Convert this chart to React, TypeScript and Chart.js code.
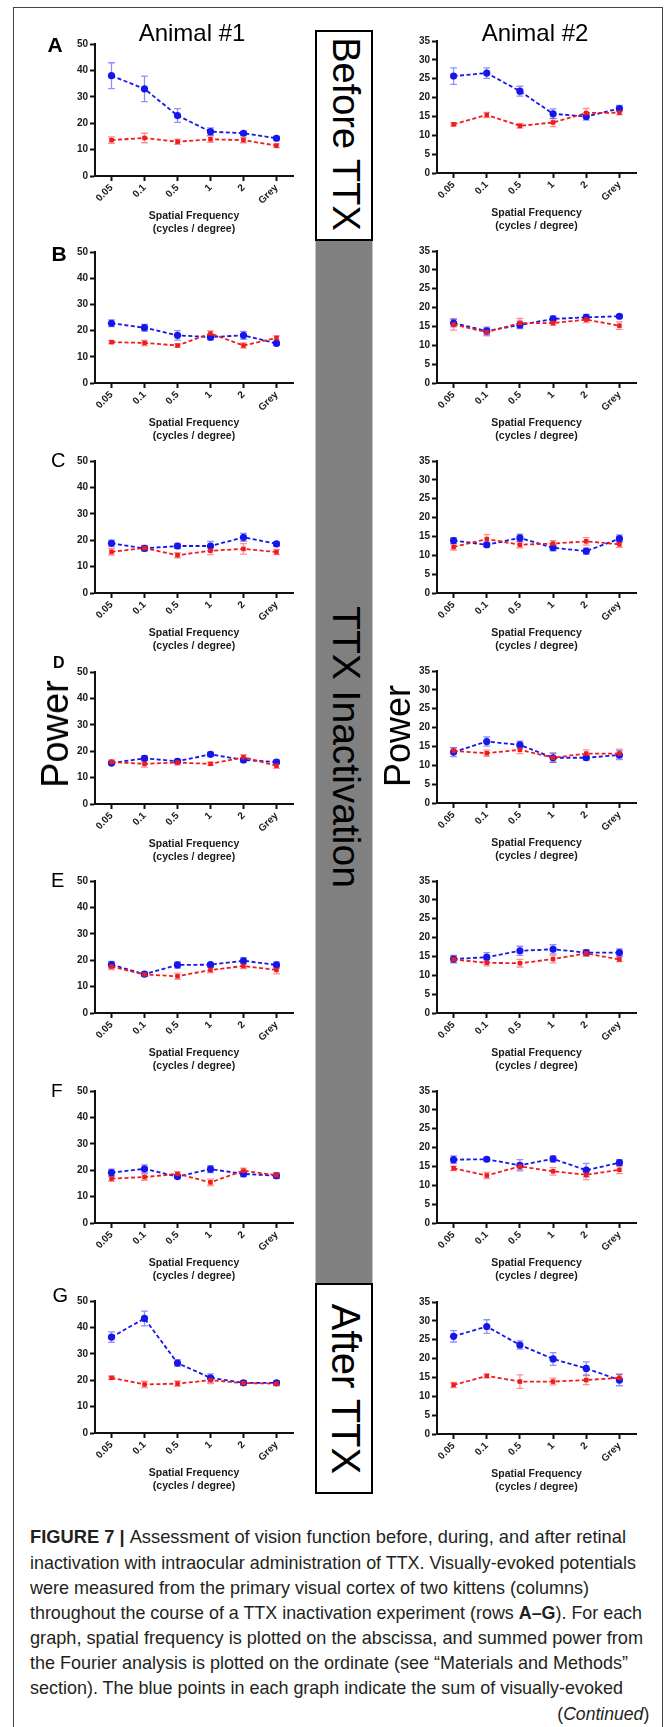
import React, { useEffect, useLayoutEffect, useRef } from 'react';
import { Chart, registerables } from 'chart.js';

Chart.register(...registerables);

// ---------- DATA ----------
const categories = ['0.05', '0.1', '0.5', '1', '2', 'Grey'];
const yTicksAnimal1 = [0, 10, 20, 30, 40, 50];
const yTicksAnimal2 = [0, 5, 10, 15, 20, 25, 30, 35];
const rowLetters = ['A', 'B', 'C', 'D', 'E', 'F', 'G'];
const columnTitles = ['Animal #1', 'Animal #2'];
const xAxisTitle = ['Spatial Frequency', '(cycles / degree)'];

// Row A (Before TTX)
const a1Blue = [38.0, 33.0, 22.9, 16.8, 16.2, 14.3];
const a1BlueErr = [4.9, 4.8, 2.6, 1.4, 0.7, 0.7];
const a1Red = [13.6, 14.4, 13.0, 13.9, 13.6, 11.5];
const a1RedErr = [1.2, 1.8, 1.0, 1.2, 1.0, 0.7];
const a2Blue = [25.7, 26.5, 21.7, 15.7, 15.0, 17.1];
const a2BlueErr = [2.2, 1.4, 1.3, 1.3, 1.0, 0.8];
const a2Red = [12.9, 15.4, 12.5, 13.4, 15.9, 16.0];
const a2RedErr = [0.4, 0.7, 0.6, 1.1, 1.2, 0.6];
// Row B
const b1Blue = [22.8, 21.1, 18.2, 17.5, 18.2, 15.1];
const b1BlueErr = [1.3, 1.3, 1.8, 1.0, 1.5, 0.5];
const b1Red = [15.6, 15.3, 14.3, 18.9, 14.3, 17.2];
const b1RedErr = [0.6, 1.0, 0.6, 1.0, 1.0, 0.8];
const b2Blue = [15.9, 13.8, 15.4, 17.0, 17.4, 17.7];
const b2BlueErr = [1.0, 1.0, 1.0, 0.8, 0.8, 0.4];
const b2Red = [15.5, 13.5, 15.9, 15.9, 16.8, 15.2];
const b2RedErr = [1.5, 1.0, 1.2, 0.6, 0.8, 1.0];
// Row C
const c1Blue = [18.8, 16.9, 17.8, 17.8, 21.1, 18.6];
const c1BlueErr = [1.2, 0.8, 1.0, 1.7, 1.5, 0.8];
const c1Red = [15.6, 17.0, 14.3, 16.0, 16.7, 15.5];
const c1RedErr = [1.2, 1.0, 1.0, 1.5, 2.0, 1.0];
const c2Blue = [13.9, 12.8, 14.6, 12.0, 11.1, 14.4];
const c2BlueErr = [0.8, 0.6, 1.0, 0.8, 0.8, 1.0];
const c2Red = [12.2, 14.3, 12.8, 13.1, 13.7, 12.9];
const c2RedErr = [0.8, 1.2, 0.8, 0.8, 1.0, 0.8];
// Row D
const d1Blue = [15.5, 17.3, 16.2, 18.8, 16.7, 15.9];
const d1BlueErr = [0.6, 1.0, 0.8, 0.8, 0.8, 0.8];
const d1Red = [15.9, 15.2, 15.7, 15.2, 17.7, 14.5];
const d1RedErr = [0.8, 1.2, 1.0, 0.6, 1.0, 1.0];
const d2Blue = [13.5, 16.3, 15.4, 12.0, 12.0, 12.7];
const d2BlueErr = [1.2, 1.2, 1.0, 1.2, 0.6, 1.2];
const d2Red = [13.8, 13.2, 14.1, 12.0, 13.1, 13.1];
const d2RedErr = [0.8, 0.8, 1.0, 1.2, 1.0, 1.2];
// Row E
const e1Blue = [18.3, 14.7, 18.2, 18.3, 19.8, 18.2];
const e1BlueErr = [1.2, 0.8, 1.2, 0.8, 1.2, 1.2];
const e1Red = [17.6, 14.6, 13.9, 16.3, 17.8, 16.3];
const e1RedErr = [1.2, 0.6, 1.2, 1.0, 1.0, 1.5];
const e2Blue = [14.3, 14.8, 16.5, 16.9, 16.0, 16.0];
const e2BlueErr = [1.0, 1.2, 1.2, 1.2, 0.8, 1.0];
const e2Red = [14.2, 13.3, 13.2, 14.3, 15.8, 14.2];
const e2RedErr = [0.8, 0.8, 1.0, 1.0, 0.8, 0.6];
// Row F
const f1Blue = [19.1, 20.5, 17.6, 20.4, 18.6, 17.9];
const f1BlueErr = [1.3, 1.5, 0.8, 1.3, 1.0, 1.0];
const f1Red = [16.8, 17.4, 18.6, 15.4, 19.8, 18.1];
const f1RedErr = [1.0, 1.2, 0.8, 1.2, 1.0, 1.0];
const f2Blue = [16.8, 16.9, 15.3, 17.0, 14.0, 16.0];
const f2BlueErr = [1.0, 0.5, 1.5, 0.8, 1.8, 0.8];
const f2Red = [14.5, 12.6, 15.0, 13.7, 12.8, 14.1];
const f2RedErr = [0.6, 0.8, 0.8, 1.0, 1.3, 1.0];
// Row G (After TTX)
const g1Blue = [36.3, 43.4, 26.5, 20.9, 19.0, 19.0];
const g1BlueErr = [2.0, 2.8, 1.3, 1.5, 0.8, 0.8];
const g1Red = [20.9, 18.4, 18.7, 20.0, 18.9, 18.7];
const g1RedErr = [0.6, 1.2, 1.0, 1.3, 0.8, 0.8];
const g2Blue = [25.9, 28.5, 23.6, 19.9, 17.4, 14.3];
const g2BlueErr = [1.5, 1.8, 1.1, 1.7, 1.7, 1.5];
const g2Red = [13.0, 15.4, 13.9, 13.9, 14.3, 14.9];
const g2RedErr = [0.7, 0.5, 1.8, 0.9, 1.2, 1.0];

const captionLines = [
  'Assessment of vision function before, during, and after retinal',
  'inactivation with intraocular administration of TTX. Visually-evoked potentials',
  'were measured from the primary visual cortex of two kittens (columns)',
  'throughout the course of a TTX inactivation experiment (rows ',
  'graph, spatial frequency is plotted on the abscissa, and summed power from',
  'the Fourier analysis is plotted on the ordinate (see \u201cMaterials and Methods\u201d',
  'section). The blue points in each graph indicate the sum of visually-evoked',
];

// ---------- STYLE / LAYOUT ----------
const FONT = '"Liberation Sans", Arial, Helvetica, sans-serif';
const BLUE = 'rgb(22,22,235)';
const RED = 'rgb(240,28,28)';
const BLUE_ERR = 'rgba(70,70,255,0.6)';
const RED_ERR = 'rgba(255,70,70,0.6)';
const AXIS = '#111';
const TXT = '#1a1a1a';
const Y_AXIS_W = 40;
const X_AXIS_H = 60;
const PAD_TOP = 10;
const PAD_RIGHT = 4;

const colX = [
  { L: 95, R: 293 },
  { L: 437, R: 636 },
];
const rowY = [
  [{ T: 44, B: 176 }, { T: 41, B: 173 }],
  [{ T: 252, B: 383 }, { T: 251, B: 383 }],
  [{ T: 461, B: 593 }, { T: 461, B: 593 }],
  [{ T: 672, B: 804 }, { T: 671, B: 803 }],
  [{ T: 881, B: 1013 }, { T: 881, B: 1013 }],
  [{ T: 1091, B: 1223 }, { T: 1091, B: 1223 }],
  [{ T: 1301, B: 1433 }, { T: 1302, B: 1434 }],
];

const panelData = [
  [[a1Blue, a1BlueErr, a1Red, a1RedErr], [a2Blue, a2BlueErr, a2Red, a2RedErr]],
  [[b1Blue, b1BlueErr, b1Red, b1RedErr], [b2Blue, b2BlueErr, b2Red, b2RedErr]],
  [[c1Blue, c1BlueErr, c1Red, c1RedErr], [c2Blue, c2BlueErr, c2Red, c2RedErr]],
  [[d1Blue, d1BlueErr, d1Red, d1RedErr], [d2Blue, d2BlueErr, d2Red, d2RedErr]],
  [[e1Blue, e1BlueErr, e1Red, e1RedErr], [e2Blue, e2BlueErr, e2Red, e2RedErr]],
  [[f1Blue, f1BlueErr, f1Red, f1RedErr], [f2Blue, f2BlueErr, f2Red, f2RedErr]],
  [[g1Blue, g1BlueErr, g1Red, g1RedErr], [g2Blue, g2BlueErr, g2Red, g2RedErr]],
];

const errorBarPlugin = {
  id: 'errorBars',
  beforeDatasetsDraw(chart: any) {
    const ctx = chart.ctx;
    const xs = chart.scales.x;
    const ys = chart.scales.y;
    chart.data.datasets.forEach((ds: any) => {
      const errs: number[] = ds.errors;
      if (!errs) return;
      ctx.save();
      ctx.strokeStyle = ds.errorColor;
      ctx.lineWidth = 1.3;
      ctx.setLineDash([]);
      ds.data.forEach((v: number, i: number) => {
        const px = xs.getPixelForValue(i);
        const top = ys.getPixelForValue(v + errs[i]);
        const bot = ys.getPixelForValue(v - errs[i]);
        const cap = 3.4;
        ctx.beginPath();
        ctx.moveTo(px, top);
        ctx.lineTo(px, bot);
        ctx.moveTo(px - cap, top);
        ctx.lineTo(px + cap, top);
        ctx.moveTo(px - cap, bot);
        ctx.lineTo(px + cap, bot);
        ctx.stroke();
      });
      ctx.restore();
    });
  },
};

function Panel({ row, col }: { row: number; col: number }) {
  const ref = useRef<HTMLCanvasElement>(null);
  const { L, R } = colX[col];
  const { T, B } = rowY[row][col];
  const left = L - Y_AXIS_W;
  const top = T - PAD_TOP;
  const width = R + PAD_RIGHT - left;
  const height = B + X_AXIS_H - top;
  const [blue, blueErr, red, redErr] = panelData[row][col];
  const ticks = col === 0 ? yTicksAnimal1 : yTicksAnimal2;

  useEffect(() => {
    const tickFont = { family: FONT, size: 10, weight: 'bold' as const };
    const chart = new Chart(ref.current!, {
      type: 'line',
      data: {
        labels: categories,
        datasets: [
          {
            data: red,
            borderColor: RED,
            backgroundColor: RED,
            borderWidth: 1.8,
            borderDash: [4, 2.5],
            pointStyle: 'rect',
            pointRadius: 3.2,
            pointBorderWidth: 0,
            tension: 0,
            errors: redErr,
            errorColor: RED_ERR,
          } as any,
          {
            data: blue,
            borderColor: BLUE,
            backgroundColor: BLUE,
            borderWidth: 1.8,
            borderDash: [4, 2.5],
            pointStyle: 'circle',
            pointRadius: 3.6,
            pointBorderWidth: 0,
            tension: 0,
            errors: blueErr,
            errorColor: BLUE_ERR,
          } as any,
        ],
      },
      options: {
        animation: false,
        responsive: false,
        devicePixelRatio: 1,
        layout: { padding: { top: PAD_TOP, right: PAD_RIGHT, left: 0, bottom: 0 } },
        plugins: { legend: { display: false }, tooltip: { enabled: false } },
        scales: {
          x: {
            type: 'category',
            offset: true,
            grid: {
              offset: false,
              drawOnChartArea: false,
              drawTicks: true,
              tickLength: 5,
              tickWidth: 2,
              tickColor: AXIS,
            },
            border: { display: true, color: AXIS, width: 2 },
            ticks: {
              autoSkip: false,
              minRotation: 45,
              maxRotation: 45,
              padding: 1,
              color: TXT,
              font: tickFont,
            },
            title: {
              display: true,
              text: xAxisTitle,
              color: TXT,
              font: { family: FONT, size: 10.5, weight: 'bold', lineHeight: '13px' } as any,
              padding: { top: 0, bottom: 0 },
            },
            afterFit: (s: any) => {
              s.height = X_AXIS_H;
            },
          },
          y: {
            min: ticks[0],
            max: ticks[ticks.length - 1],
            grid: {
              drawOnChartArea: false,
              drawTicks: true,
              tickLength: 5,
              tickWidth: 2,
              tickColor: AXIS,
            },
            border: { display: true, color: AXIS, width: 2 },
            ticks: {
              stepSize: ticks[1] - ticks[0],
              padding: 2,
              color: TXT,
              font: tickFont,
            },
            afterFit: (s: any) => {
              s.width = Y_AXIS_W;
            },
          },
        },
      },
      plugins: [errorBarPlugin],
    });
    return () => chart.destroy();
  }, []);

  return (
    <canvas
      ref={ref}
      width={width}
      height={height}
      style={{ position: 'absolute', left, top, width, height }}
    />
  );
}

function RotText({
  text,
  cx,
  cy,
  size,
  angle,
}: {
  text: string;
  cx: number;
  cy: number;
  size: number;
  angle: number;
}) {
  return (
    <div
      style={{
        position: 'absolute',
        left: cx,
        top: cy,
        fontFamily: FONT,
        fontSize: size,
        lineHeight: `${size}px`,
        whiteSpace: 'nowrap',
        color: '#000',
        transform: `translate(-50%, -50%) rotate(${angle}deg)`,
      }}
    >
      {text}
    </div>
  );
}

function FitLine({
  top,
  x,
  width,
  alignRight,
  children,
}: {
  top: number;
  x: number;
  width: number;
  alignRight?: boolean;
  children: React.ReactNode;
}) {
  const ref = useRef<HTMLDivElement>(null);
  useLayoutEffect(() => {
    const el = ref.current!;
    const fit = () => {
      el.style.transform = 'none';
      const w = el.getBoundingClientRect().width;
      if (w > 0) el.style.transform = `scaleX(${width / w})`;
    };
    fit();
    if ((document as any).fonts && (document as any).fonts.ready) {
      (document as any).fonts.ready.then(fit);
    }
  }, []);
  const style: React.CSSProperties = {
    position: 'absolute',
    top,
    display: 'inline-block',
    whiteSpace: 'nowrap',
    fontFamily: '"Liberation Sans Narrow", "Liberation Sans", Arial, sans-serif',
    fontSize: 19,
    lineHeight: '25px',
    color: '#231f20',
    transformOrigin: alignRight ? 'right center' : 'left center',
  };
  if (alignRight) style.right = 666 - x;
  else style.left = x;
  return (
    <div ref={ref} style={style}>
      {children}
    </div>
  );
}

const letterSpecs = [
  { left: 47.5, baseline: 52, size: 21, bold: true },
  { left: 51.5, baseline: 260.5, size: 21, bold: true },
  { left: 51, baseline: 466.5, size: 20, bold: false },
  { left: 53, baseline: 668.5, size: 16, bold: true },
  { left: 51, baseline: 887, size: 20, bold: false },
  { left: 51, baseline: 1097.5, size: 19, bold: false },
  { left: 52.5, baseline: 1302, size: 20, bold: false },
];

const captionCenters = [1536.7, 1562.3, 1587.3, 1612.3, 1637.7, 1662.7, 1687.7, 1713.3];
const captionWidths = [596, 606, 559, 612, 613, 598, 593, 92];

export default function App() {
  const panels: JSX.Element[] = [];
  for (let r = 0; r < 7; r++) {
    for (let c = 0; c < 2; c++) {
      panels.push(<Panel key={`${r}-${c}`} row={r} col={c} />);
    }
  }
  const lineTop = (i: number) => captionCenters[i] - 12.5;
  return (
    <div
      style={{
        position: 'absolute',
        left: 0,
        top: 0,
        width: 666,
        height: 1727,
        overflow: 'hidden',
        background: '#fff',
        fontFamily: FONT,
      }}
    >
      {/* outer frame */}
      <div
        style={{
          position: 'absolute',
          left: 13,
          top: 7,
          width: 650,
          height: 1800,
          border: '1px solid #444',
          boxSizing: 'border-box',
        }}
      />
      {/* middle column */}
      <div
        style={{
          position: 'absolute',
          left: 315,
          top: 240,
          width: 58,
          height: 1044,
          background: '#808080',
          borderLeft: '1px solid #c4c4c4',
          borderRight: '1px solid #c4c4c4',
          boxSizing: 'border-box',
        }}
      />
      <div
        style={{
          position: 'absolute',
          left: 315,
          top: 30,
          width: 58,
          height: 211,
          background: '#fff',
          border: '2px solid #000',
          boxSizing: 'border-box',
        }}
      />
      <div
        style={{
          position: 'absolute',
          left: 315,
          top: 1283,
          width: 58,
          height: 211,
          background: '#fff',
          border: '2px solid #000',
          boxSizing: 'border-box',
        }}
      />
      <RotText text="Before TTX" cx={346} cy={134} size={38} angle={90} />
      <RotText text="TTX Inactivation" cx={346} cy={746.5} size={39} angle={90} />
      <RotText text="After TTX" cx={346} cy={1389} size={40} angle={90} />

      {panels}

      {/* column titles */}
      {columnTitles.map((t, i) => (
        <div
          key={t}
          style={{
            position: 'absolute',
            left: i === 0 ? 192 : 535,
            top: 41.5 - 24 * 0.8465,
            fontSize: 24,
            lineHeight: '24px',
            whiteSpace: 'nowrap',
            transform: 'translateX(-50%)',
            color: '#000',
          }}
        >
          {t}
        </div>
      ))}

      {/* row letters */}
      {rowLetters.map((l, i) => {
        const s = letterSpecs[i];
        return (
          <div
            key={l}
            style={{
              position: 'absolute',
              left: s.left,
              top: s.baseline - s.size * 0.8465,
              fontSize: s.size,
              lineHeight: `${s.size}px`,
              fontWeight: s.bold ? 'bold' : 'normal',
              color: '#000',
            }}
          >
            {l}
          </div>
        );
      })}

      {/* y-axis labels */}
      <RotText text="Power" cx={55} cy={734} size={38} angle={-90} />
      <RotText text="Power" cx={398} cy={736} size={36} angle={-90} />

      {/* caption */}
      <FitLine top={lineTop(0)} x={30} width={captionWidths[0]}>
        <b>FIGURE 7 | </b>
        {captionLines[0]}
      </FitLine>
      <FitLine top={lineTop(1)} x={30} width={captionWidths[1]}>
        {captionLines[1]}
      </FitLine>
      <FitLine top={lineTop(2)} x={30} width={captionWidths[2]}>
        {captionLines[2]}
      </FitLine>
      <FitLine top={lineTop(3)} x={30} width={captionWidths[3]}>
        {captionLines[3]}
        <b>A–G</b>). For each
      </FitLine>
      <FitLine top={lineTop(4)} x={30} width={captionWidths[4]}>
        {captionLines[4]}
      </FitLine>
      <FitLine top={lineTop(5)} x={30} width={captionWidths[5]}>
        {captionLines[5]}
      </FitLine>
      <FitLine top={lineTop(6)} x={30} width={captionWidths[6]}>
        {captionLines[6]}
      </FitLine>
      <FitLine top={lineTop(7)} x={649} width={captionWidths[7]} alignRight>
        (<i>Continued</i>)
      </FitLine>
    </div>
  );
}
